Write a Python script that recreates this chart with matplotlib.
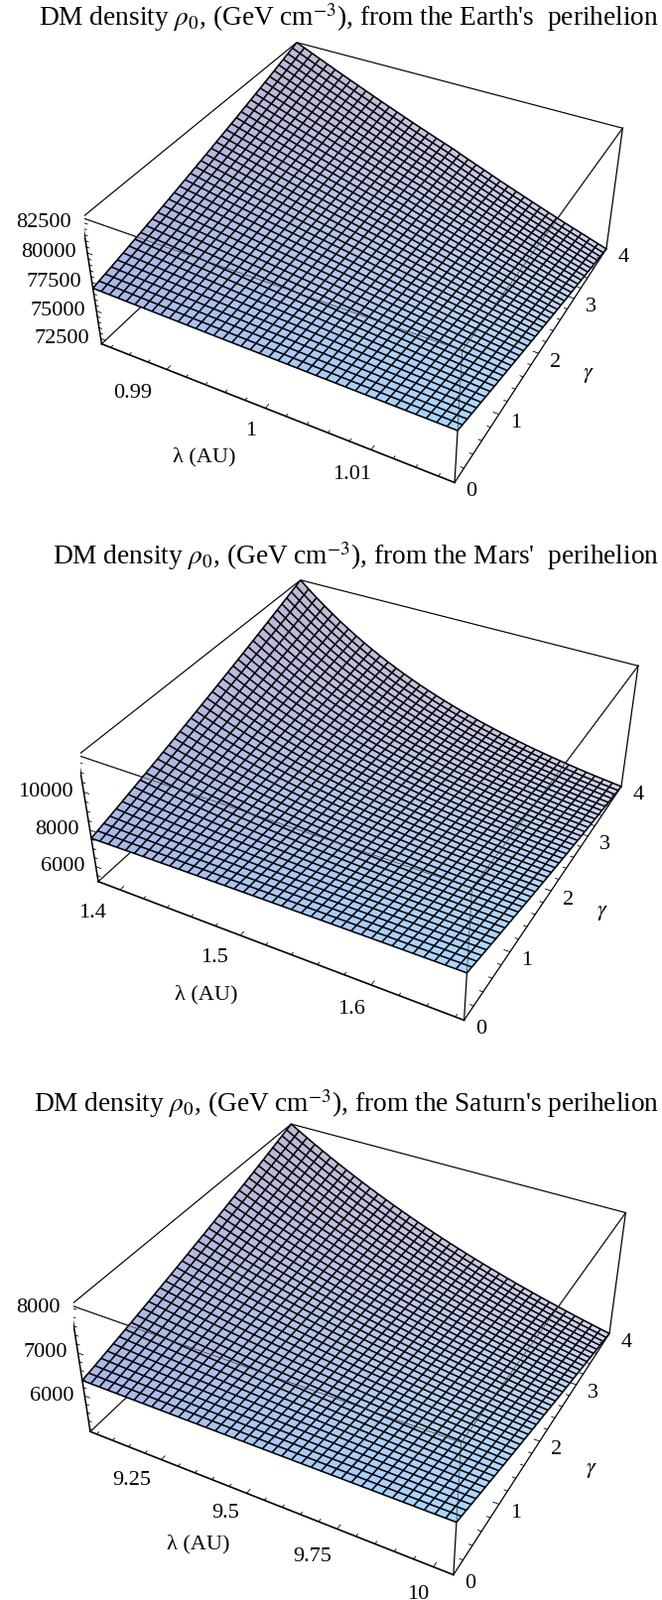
import matplotlib
matplotlib.use("Agg")
import matplotlib.pyplot as plt
import numpy as np
from mpl_toolkits.mplot3d import proj3d

plt.rcParams['font.family'] = ['Liberation Serif', 'DejaVu Sans']
plt.rcParams['mathtext.fontset'] = 'stix'

W, H = 667, 1613

# surface profiles, 40 grid lines per side
gamma_grid = [i * 4 / 39 for i in range(40)]

# Earth
earth_lam = [0.983, 1.0174]
earth_min = [77000, 77130, 77261, 77393, 77526, 77661, 77796, 77932, 78070, 78209,
             78349, 78490, 78632, 78775, 78920, 79065, 79211, 79359, 79507, 79657,
             79808, 79960, 80113, 80267, 80423, 80579, 80737, 80895, 81055, 81216,
             81378, 81541, 81705, 81870, 82036, 82203, 82372, 82541, 82712, 82883]
earth_max = [76500, 76375, 76251, 76127, 76004, 75881, 75759, 75637, 75516, 75395,
             75275, 75155, 75036, 74917, 74799, 74681, 74564, 74447, 74331, 74215,
             74100, 73985, 73871, 73757, 73644, 73531, 73419, 73307, 73196, 73085,
             72975, 72865, 72756, 72647, 72539, 72431, 72324, 72217, 72111, 72005]
earth_w = [0, .0285, .057, .085, .113, .141, .169, .196, .223, .250,
           .277, .304, .330, .356, .382, .408, .433, .458, .483, .507,
           .531, .558, .585, .611, .637, .663, .689, .714, .739, .764,
           .789, .813, .837, .861, .885, .908, .931, .954, .977, 1]
earth_lam_ticks = [0.99, 1, 1.01]
earth_lam_minor = [0.984, 0.986, 0.988, 0.992, 0.994, 0.996, 0.998, 1.002, 1.004, 1.006, 1.008, 1.012, 1.014, 1.016]
earth_z_ticks = [72500, 75000, 77500, 80000, 82500]
earth_z_minor = [73000, 73500, 74000, 74500, 75500, 76000, 76500, 77000, 78000, 78500, 79000, 79500, 80500, 81000, 81500, 82000]

# Mars
mars_lam = [1.381, 1.666]
mars_min = [7560, 7655, 7751, 7848, 7946, 8045, 8145, 8246, 8348, 8450,
            8553, 8657, 8762, 8867, 8973, 9080, 9188, 9296, 9405, 9515,
            9625, 9736, 9848, 9960, 10073, 10187, 10301, 10416, 10532, 10648,
            10765, 10883, 11001, 11120, 11240, 11360, 11481, 11603, 11726, 11850]
mars_max = [7680, 7606, 7532, 7459, 7386, 7314, 7242, 7171, 7100, 7030,
            6960, 6891, 6822, 6754, 6686, 6619, 6552, 6486, 6420, 6355,
            6290, 6226, 6162, 6099, 6036, 5974, 5912, 5851, 5790, 5730,
            5670, 5611, 5552, 5494, 5436, 5379, 5322, 5266, 5210, 5155]
mars_w = [0, .0578, .1127, .1650, .2146, .2616, .3064, .3488, .3892, .4276,
          .4642, .4987, .5316, .5628, .5926, .6206, .6475, .6729, .6972, .7200,
          .7419, .7626, .7822, .8009, .8187, .8355, .8517, .8670, .8814, .8953,
          .9084, .9207, .9323, .9436, .9543, .9644, .9740, .9826, .9911, 1]
mars_lam_ticks = [1.4, 1.5, 1.6]
mars_lam_minor = [1.42, 1.44, 1.46, 1.48, 1.52, 1.54, 1.56, 1.58, 1.62, 1.64, 1.66]
mars_z_ticks = [6000, 8000, 10000]
mars_z_minor = [5500, 6500, 7000, 7500, 8500, 9000, 9500, 10500, 11000, 11500]

# Saturn
saturn_lam = [9.03, 10.05]
saturn_min = [6365, 6402, 6439, 6477, 6515, 6553, 6592, 6631, 6670, 6710,
              6750, 6790, 6831, 6872, 6913, 6955, 6997, 7039, 7082, 7125,
              7168, 7212, 7256, 7300, 7345, 7390, 7435, 7481, 7527, 7573,
              7620, 7667, 7714, 7762, 7810, 7858, 7907, 7956, 8005, 8055]
saturn_max = [6350, 6316, 6282, 6248, 6214, 6181, 6148, 6115, 6082, 6049,
              6016, 5984, 5952, 5920, 5888, 5856, 5824, 5793, 5762, 5731,
              5700, 5669, 5638, 5607, 5576, 5546, 5516, 5486, 5456, 5426,
              5396, 5366, 5336, 5307, 5278, 5249, 5220, 5191, 5162, 5133]
saturn_w = [0, .0400, .0791, .1171, .1541, .1903, .2254, .2597, .2933, .3259,
            .3577, .3888, .4188, .4484, .4770, .5050, .5322, .5588, .5847, .6099,
            .6345, .6584, .6818, .7046, .7267, .7484, .7695, .7901, .8101, .8296,
            .8487, .8672, .8852, .9029, .9200, .9368, .9531, .9691, .9846, 1]
saturn_lam_ticks = [9.25, 9.5, 9.75, 10]
saturn_lam_minor = [9.05, 9.1, 9.15, 9.2, 9.3, 9.35, 9.4, 9.45, 9.55, 9.6, 9.65, 9.7, 9.8, 9.85, 9.9, 9.95]
saturn_z_ticks = [6000, 7000, 8000]
saturn_z_minor = [5200, 5400, 5600, 5800, 6200, 6400, 6600, 6800, 7200, 7400, 7600, 7800]

gamma_ticks = [0, 1, 2, 3, 4]
gamma_minor = [.2, .4, .6, .8, 1.2, 1.4, 1.6, 1.8, 2.2, 2.4, 2.6, 2.8, 3.2, 3.4, 3.6, 3.8]

# colours at the four corners of the surface
col_left = np.array([168, 184, 232]) / 255
col_front = np.array([170, 214, 255]) / 255
col_apex = np.array([192, 184, 214]) / 255
col_right = np.array([206, 212, 238]) / 255


def pos3d(ax, x, y, z, txt, dx, dy, ha='center', size=16):
    px, py, _ = proj3d.proj_transform(x, y, z, ax.get_proj())
    ax.annotate(txt, xy=(px, py), xytext=(dx, dy), textcoords='offset pixels',
                ha=ha, va='center', fontsize=size, annotation_clip=False, zorder=6)


def panel(cx, cy, sw, sh, zbox, lam_lim, e_min, e_max, w, lam_ticks, lam_minor, z_ticks, z_minor, lab_off):
    ax = fig.add_axes([(cx - sw / 2) / W, 1 - (cy + sh / 2) / H, sw / W, sh / H], projection='3d')
    # each panel of the picture is stretched on its own, so keep the rectangle as given
    ax.apply_aspect = lambda position=None: None
    ax.patch.set_visible(False)
    ax.computed_zorder = False
    ax.set_proj_type('persp', focal_length=0.44)
    ax.view_init(elev=36.2, azim=-61.6)
    ax.set_box_aspect((1, 1, zbox))
    ax.set_axis_off()

    e_min = np.array(e_min, dtype=float)
    e_max = np.array(e_max, dtype=float)
    w = np.array(w)
    gam = np.array(gamma_grid)
    lam = lam_lim[0] + (lam_lim[1] - lam_lim[0]) * np.linspace(0, 1, 40)
    X, Y = np.meshgrid(lam, gam)
    Z = np.outer(e_min, 1 - w) + np.outer(e_max, w)
    zlo, zhi = Z.min(), Z.max()
    x0, x1 = lam_lim
    ax.set_xlim(x0, x1, view_margin=0)
    ax.set_ylim(0, 4, view_margin=0)
    ax.set_zlim(zlo, zhi, view_margin=0)

    # face colours, blended from the corners
    u = np.linspace(0, 1, 39)[None, :, None]
    v = np.linspace(0, 1, 39)[:, None, None]
    cols = (1 - u) * (1 - v) * col_left + u * (1 - v) * col_front + (1 - u) * v * col_apex + u * v * col_right

    # edges behind the surface
    for a, b in [((x0, 0, zhi), (x0, 4, zhi)), ((x0, 4, zhi), (x1, 4, zhi)),
                 ((x0, 0, zlo), (x0, 4, zlo)), ((x0, 4, zlo), (x1, 4, zlo)),
                 ((x0, 0, zhi), (x1, 0, zhi)), ((x1, 0, zhi), (x1, 4, zhi))]:
        ax.plot(*zip(a, b), color='k', lw=0.85, zorder=1)

    # faces first, then the mesh on top so no face paints over half a line
    ax.plot_surface(X, Y, Z, facecolors=cols, rstride=1, cstride=1, shade=False,
                    linewidth=0, antialiased=False, zorder=2)
    ax.plot_wireframe(X, Y, Z, rstride=1, cstride=1, color='k', linewidth=1.15, zorder=2.5)

    # top edges and corner seen across the surface, fainter
    for a, b in [((x0, 0, zhi), (x1, 0, zhi)), ((x1, 0, zhi), (x1, 4, zhi)), ((x1, 0, e_max[0]), (x1, 0, zhi))]:
        ax.plot(*zip(a, b), color='#333333', lw=0.5, zorder=3)
    for a, b, lw in [((x0, 0, zlo), (x1, 0, zlo), 1.2), ((x1, 0, zlo), (x1, 4, zlo), 0.9),
                     ((x0, 0, zlo), (x0, 0, zhi), 1.1), ((x1, 0, zlo), (x1, 0, e_max[0]), 0.9),
                     ((x1, 4, zlo), (x1, 4, zhi), 0.9)]:
        ax.plot(*zip(a, b), color='k', lw=lw, zorder=4)

    # tick marks
    for t, ln in [(t, 0.06) for t in lam_ticks] + [(t, 0.035) for t in lam_minor]:
        ax.plot([t, t], [0, ln], [zlo, zlo], color='k', lw=0.6, zorder=4)
    for t, ln in [(t, 0.06) for t in gamma_ticks[1:-1]] + [(t, 0.035) for t in gamma_minor]:
        d = (x1 - x0) * ln / 4
        ax.plot([x1, x1 - d], [t, t], [zlo, zlo], color='k', lw=0.6, zorder=4)
    for t, ln in [(t, 0.06) for t in z_ticks] + [(t, 0.035) for t in z_minor]:
        d = (x1 - x0) * ln / 4
        ax.plot([x0, x0 + d], [0, 0], [t, t], color='k', lw=0.6, zorder=4)

    # tick labels
    for t, off in zip(lam_ticks, lab_off):
        pos3d(ax, t, 0, zlo, str(t), off[0], off[1])
    for t in gamma_ticks:
        pos3d(ax, x1, t, zlo, str(t), 17, -9)
    for t in z_ticks:
        pos3d(ax, x0, 0, t, str(t), -11, 0, ha='right')
    return ax


fig = plt.figure(figsize=(W / 100, H / 100), dpi=100)

panel(361, 244, 552, 556, 0.395, earth_lam, earth_min, earth_max, earth_w, earth_lam_ticks, earth_lam_minor,
      earth_z_ticks, earth_z_minor, [(-34, -24), (-15, -23), (-19, -25)])
panel(367, 786, 572, 556, 0.395, mars_lam, mars_min, mars_max, mars_w, mars_lam_ticks, mars_lam_minor,
      mars_z_ticks, mars_z_minor, [(-28, -23), (-26, -23), (-20, -25)])
panel(357, 1339, 566, 573, 0.383, saturn_lam, saturn_min, saturn_max, saturn_w, saturn_lam_ticks, saturn_lam_minor,
      saturn_z_ticks, saturn_z_minor, [(-30, -21), (-21, -20), (-25, -28), (-15, -28)])

titles = ["DM density $\\rho_0$, (GeV cm$^{-3}$), from the Earth's  perihelion",
          "DM density $\\rho_0$, (GeV cm$^{-3}$), from the Mars'  perihelion",
          "DM density $\\rho_0$, (GeV cm$^{-3}$), from the Saturn's perihelion"]
for txt, y in zip(titles, [26, 569, 1121]):
    fig.text(664 / W, 1 - y / H, txt, ha='right', va='baseline', fontsize=19.75)

for x, y in [(206, 461), (208, 1003), (200, 1557)]:
    fig.text(x / W, 1 - y / H, "λ (AU)", ha='center', va='center', fontsize=16)
for x, y in [(593, 379), (607, 920), (596, 1482)]:
    fig.text(x / W, 1 - y / H, "$\\gamma$", ha='center', va='center', fontsize=16)

fig.savefig("out.png", dpi=100)
